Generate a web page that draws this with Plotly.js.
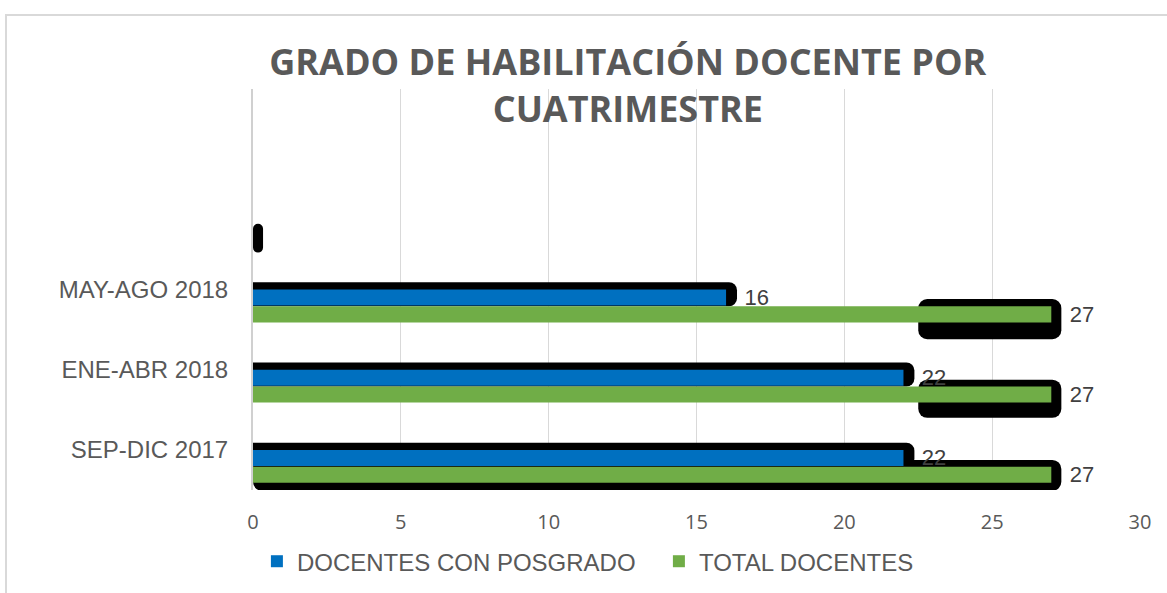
<!DOCTYPE html>
<html>
<head>
<meta charset="utf-8">
<script src="https://cdn.plot.ly/plotly-3.0.1.min.js"></script>
<style>
  html, body { margin: 0; padding: 0; overflow: hidden; background: #ffffff; }
  #frame { position: absolute; left: 5px; top: 14px; width: 1400px; height: 800px; border: 2px solid #d9d9d9; }
  #chart { position: absolute; left: 0; top: 0; width: 1167px; height: 593px; }
</style>
</head>
<body>
<div id="frame"></div>
<div id="chart"></div>
<script>
// ---- data ----
const categories = ['SEP-DIC 2017', 'ENE-ABR 2018', 'MAY-AGO 2018', ''];
const docentesPosgrado = [22, 22, 16, null];
const totalDocentes = [27, 27, 27, 0];
const seriesNames = ['DOCENTES CON POSGRADO', 'TOTAL DOCENTES'];
const xTickValues = [0, 5, 10, 15, 20, 25, 30];

// ---- styling (shadow effect of the original) ----
const greenShadowBase = [0, 22.5, 22.5, 0];
const greenShadowOffset = [-0.51, -0.6, -0.62, -0.54];
const greenShadowWidth = [0.385, 0.475, 0.5, 0.36];
const blueShadowExt = 0.37;
const greenShadowExt = 0.34;

const yPos = categories.map((c, i) => i);
const label = v => (v ? '\u2002\u2009' + v : '');
const labelFont = { family: 'Liberation Sans, Arial, sans-serif', size: 22, color: '#404040' };

const traces = [
  {
    type: 'bar', orientation: 'h', y: yPos,
    x: totalDocentes.map((v, i) => v == null ? null : v + greenShadowExt - greenShadowBase[i]),
    base: greenShadowBase, offset: greenShadowOffset, width: greenShadowWidth,
    marker: { color: '#000000', cornerradius: 9 },
    showlegend: false, hoverinfo: 'skip'
  },
  {
    type: 'bar', orientation: 'h', y: yPos,
    x: docentesPosgrado.map(v => v == null ? null : v + blueShadowExt),
    offset: -0.21, width: 0.3,
    marker: { color: '#000000', cornerradius: 8 },
    showlegend: false, hoverinfo: 'skip'
  },
  {
    type: 'bar', orientation: 'h', name: seriesNames[0], y: yPos, x: docentesPosgrado,
    offset: -0.2, width: 0.2,
    marker: { color: '#0070C0' },
    text: docentesPosgrado.map(label), textposition: 'outside', textangle: 0,
    textfont: labelFont, cliponaxis: false, constraintext: 'none'
  },
  {
    type: 'bar', orientation: 'h', name: seriesNames[1], y: yPos, x: totalDocentes,
    offset: -0.41, width: 0.2,
    marker: { color: '#70AD47' },
    text: totalDocentes.map(label), textposition: 'outside', textangle: 0,
    textfont: labelFont, cliponaxis: false, constraintext: 'none'
  }
];

const layout = {
  width: 1167, height: 593,
  margin: { l: 253, r: 27, t: 89, b: 103, pad: 0, autoexpand: false },
  paper_bgcolor: 'rgba(0,0,0,0)', plot_bgcolor: 'rgba(0,0,0,0)',
  barmode: 'overlay',
  title: {
    text: 'GRADO DE HABILITACIÓN DOCENTE POR<br>CUATRIMESTRE',
    font: { family: 'Open Sans, sans-serif', size: 36, weight: 700, color: '#595959' },
    xref: 'container', x: 0.538, xanchor: 'center',
    yref: 'container', y: 0.874, yanchor: 'top'
  },
  xaxis: {
    range: [0, 30], tickvals: xTickValues, ticktext: xTickValues.map(String),
    showgrid: true, gridcolor: '#d9d9d9', gridwidth: 1.3,
    zeroline: false, showline: false,
    ticks: 'outside', ticklen: 14, tickcolor: 'rgba(0,0,0,0)',
    tickfont: { family: 'Open Sans, sans-serif', size: 20, color: '#595959' },
    fixedrange: true
  },
  yaxis: {
    type: 'linear', range: [-0.5, 4.5],
    tickvals: yPos, ticktext: categories,
    showgrid: false, zeroline: false,
    showline: true, linecolor: '#d0d0d0', linewidth: 2,
    ticks: 'outside', ticklen: 18, tickcolor: 'rgba(0,0,0,0)',
    tickfont: { family: 'Liberation Sans, Arial, sans-serif', size: 24, color: '#595959' },
    fixedrange: true
  },
  legend: {
    orientation: 'h', x: 0.0044, xanchor: 'left', y: -0.1225, yanchor: 'top',
    entrywidth: 357, entrywidthmode: 'pixels',
    font: { family: 'Liberation Sans, Arial, sans-serif', size: 24, color: '#595959' },
    bgcolor: 'rgba(0,0,0,0)'
  },
  showlegend: true
};

Plotly.newPlot('chart', traces, layout, { displayModeBar: false, staticPlot: true });
</script>
</body>
</html>
